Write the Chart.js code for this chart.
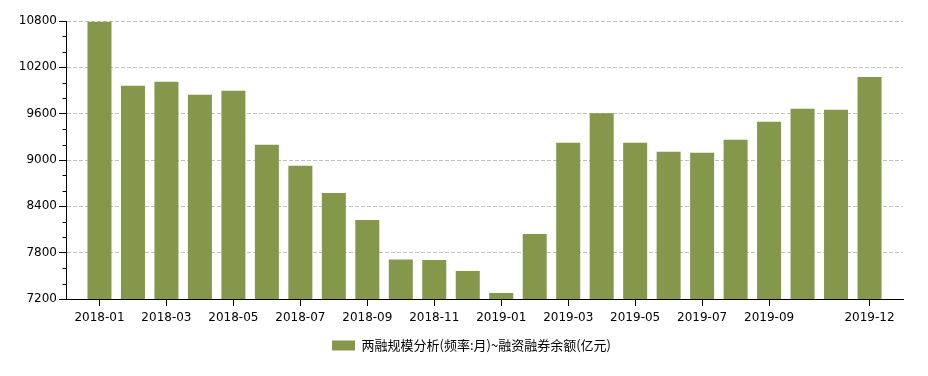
<!DOCTYPE html>
<html>
<head>
<meta charset="utf-8">
<script src="https://cdn.jsdelivr.net/npm/chart.js@4/dist/chart.umd.min.js"></script>
<style>
html,body{margin:0;padding:0;background:#fff;}
#wrap{width:928px;height:376px;position:relative;}
</style>
</head>
<body>
<div id="wrap"><canvas id="c" width="928" height="376"></canvas></div>
<script>
const categories = ["2018-01","2018-02","2018-03","2018-04","2018-05","2018-06","2018-07","2018-08","2018-09","2018-10","2018-11","2018-12",
  "2019-01","2019-02","2019-03","2019-04","2019-05","2019-06","2019-07","2019-08","2019-09","2019-10","2019-11","2019-12"];
const marginBalance = [10790, 9961, 10013, 9845, 9897, 9196, 8924, 8574, 8224, 7710, 7705, 7563,
  7278, 8043, 9222, 9604, 9222, 9106, 9093, 9261, 9495, 9664, 9651, 10076];
const shownXLabels = ["2018-01","2018-03","2018-05","2018-07","2018-09","2018-11","2019-01","2019-03","2019-05","2019-07","2019-09","2019-12"];
const yTicks = [7200, 7800, 8400, 9000, 9600, 10200, 10800];
const yMinorTicks = [7400,7600,8000,8200,8600,8800,9200,9400,9800,10000,10400,10600];
const seriesName = "两融规模分析(频率:月)~融资融券余额(亿元)";

const axisPlugin = {
  id: 'axisExtras',
  afterLayout(chart) {
    const lg = chart.legend;
    if (lg) { lg.left += 20; lg.right += 20; }
  },
  afterDraw(chart) {
    const y = chart.scales.y;
    const ctx = chart.ctx;
    const a = chart.chartArea;
    const left = Math.round(a.left) + 0.5;
    ctx.save();
    ctx.strokeStyle = '#000';
    ctx.lineWidth = 1;
    ctx.setLineDash([]);
    ctx.beginPath();
    yMinorTicks.forEach(v => {
      const py = Math.round(y.getPixelForValue(v)) + 0.5;
      ctx.moveTo(left - 4, py);
      ctx.lineTo(left, py);
    });
    ctx.moveTo(left, Math.round(a.top));
    ctx.lineTo(left, Math.round(a.bottom) + 1);
    ctx.stroke();
    ctx.restore();
  }
};

new Chart(document.getElementById('c'), {
  type: 'bar',
  data: {
    datasets: [{
      label: seriesName,
      data: categories.map((c, i) => ({ x: i, y: marginBalance[i] })),
      backgroundColor: '#84974A',
      borderWidth: 0,
      categoryPercentage: 1,
      barPercentage: 0.717
    }]
  },
  options: {
    responsive: false,
    animation: false,
    devicePixelRatio: 1,
    layout: { padding: { left: 0, right: 25, top: 21, bottom: 14 } },
    plugins: {
      tooltip: { enabled: false },
      legend: {
        position: 'bottom',
        labels: {
          boxWidth: 23,
          boxHeight: 10,
          padding: 10,
          color: '#000',
          font: { family: '"Noto Sans CJK SC", "DejaVu Sans", sans-serif', size: 13 }
        }
      }
    },
    scales: {
      x: {
        type: 'linear',
        min: -1,
        max: categories.length,
        offset: false,
        afterBuildTicks(scale) {
          scale.ticks = shownXLabels.map(l => ({ value: categories.indexOf(l) }));
        },
        grid: {
          offset: false,
          drawOnChartArea: false,
          tickLength: 7,
          tickColor: '#000'
        },
        border: { display: true, color: '#000', width: 1 },
        ticks: {
          autoSkip: false,
          maxRotation: 0,
          padding: 5,
          color: '#000',
          font: { family: '"DejaVu Sans", sans-serif', size: 12 },
          callback: (v) => categories[v] || ''
        },
        afterFit(scale) { scale.height = 30; }
      },
      y: {
        min: 7200,
        max: 10800,
        afterBuildTicks(scale) { scale.ticks = yTicks.map(v => ({ value: v })); },
        grid: {
          color: '#c0c0c0',
          tickColor: '#000',
          tickLength: 7,
          drawOnChartArea: true
        },
        border: { display: true, color: '#000', width: 1, dash: [4, 2] },
        ticks: {
          padding: 2,
          color: '#000',
          font: { family: '"DejaVu Sans", sans-serif', size: 12 },
          callback: (v) => String(v)
        },
        afterFit(scale) { scale.width = 66; }
      }
    }
  },
  plugins: [axisPlugin]
});
</script>
</body>
</html>
